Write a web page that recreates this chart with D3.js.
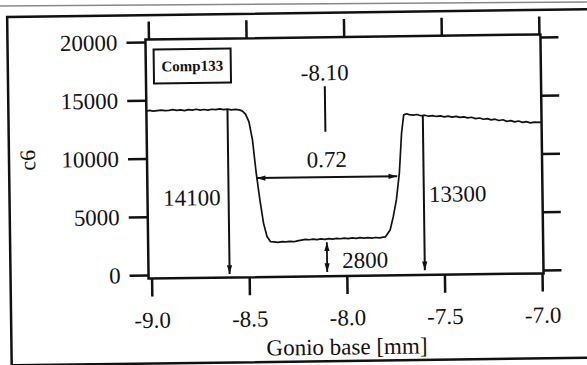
<!DOCTYPE html>
<html>
<head>
  <meta charset="UTF-8">
  <title>Comp133 gonio scan</title>
  <style>
    body { margin: 0; background: #fff; }
    svg { display: block; font-family: "Liberation Serif", "Times New Roman", serif; }
  </style>
</head>
<body>
<svg></svg>
<script src="https://d3js.org/d3.v7.min.js"></script>
<script>
    // values
    const gonioX = [-9.015, -9.00, -8.98, -8.96, -8.94, -8.92, -8.90, -8.88, -8.86, -8.84, -8.82, -8.80,
        -8.78, -8.76, -8.74, -8.72, -8.70, -8.68, -8.66, -8.64, -8.62, -8.60, -8.58, -8.56, -8.54,
        -8.525, -8.508, -8.491, -8.474, -8.457, -8.440, -8.423, -8.406, -8.389,
        -8.37, -8.35, -8.33, -8.31, -8.29, -8.27, -8.25, -8.23, -8.21, -8.19, -8.17, -8.15, -8.13,
        -8.11, -8.09, -8.07, -8.05, -8.03, -8.01, -7.99, -7.97, -7.95, -7.93, -7.91, -7.89, -7.87,
        -7.85, -7.83, -7.81, -7.800, -7.775, -7.758, -7.741, -7.724, -7.710, -7.698, -7.683,
        -7.67, -7.65, -7.63, -7.61, -7.59, -7.57, -7.55, -7.53, -7.51, -7.49, -7.47, -7.45, -7.43,
        -7.41, -7.39, -7.37, -7.35, -7.33, -7.31, -7.29, -7.27, -7.25, -7.23, -7.21, -7.19, -7.17,
        -7.15, -7.13, -7.11, -7.09, -7.07, -7.05, -7.03, -6.995];
    const c6 = [14060, 14130, 14070, 14110, 14150, 14090, 14120, 14170, 14100, 14140, 14080, 14150,
        14110, 14180, 14100, 14150, 14090, 14160, 14120, 14190, 14110, 14150, 14090, 14130, 14080,
        13990, 13700, 13050, 11480, 8620, 6330, 4330, 3180, 2740,
        2700, 2660, 2720, 2690, 2730, 2700, 2770, 2830, 2880, 2850, 2900, 2860, 2910,
        2870, 2930, 2880, 2940, 2900, 2950, 2910, 2960, 2920, 2970, 2930, 2960, 2920,
        2970, 2940, 2990, 3000, 3600, 4740, 6170, 8480, 11910, 13460, 13560,
        13480, 13430, 13480, 13370, 13410, 13320, 13370, 13290, 13340, 13250, 13300, 13210, 13270,
        13180, 13220, 13130, 13180, 13060, 13110, 13000, 13050, 12940, 12990, 12870, 12930, 12790,
        12850, 12740, 12810, 12690, 12750, 12630, 12690, 12660];

    const xTicks = [-9.0, -8.5, -8.0, -7.5, -7.0];
    const yTicks = [0, 5000, 10000, 15000, 20000];
    const xTitle = "Gonio base [mm]";
    const yTitle = "c6";
    const legendLabel = "Comp133";

    // annotations
    const levelX = [-8.60, -7.60];
    const levelTop = [14100, 13350];
    const levelBottom = [0, 100];
    const levelLabels = ["14100", "13300"];
    const widthEnds = [-8.455, -7.735];
    const widthLevel = 8200;
    const widthLabel = "0.72";
    const centerX = -8.10;
    const centerSpan = [12100, 16000];
    const centerLabel = "-8.10";
    const minSpan = [2620, 60];
    const minLabel = "2800";

    const width = 587, height = 365;
    const plotL = 147, plotR = 542, plotT = 37, plotB = 276;
    const serif = '"Liberation Serif", "Times New Roman", serif';

    const svg = d3.select("svg")
        .attr("width", width)
        .attr("height", height);

    // page edge of the scan
    svg.append("line")
        .attr("x1", 0).attr("y1", 6).attr("x2", width).attr("y2", 2)
        .attr("stroke", "#888").attr("stroke-width", 1.5);

    const defs = svg.append("defs");
    defs.append("marker")
        .attr("id", "head")
        .attr("markerUnits", "userSpaceOnUse")
        .attr("viewBox", "0 -4 10 8")
        .attr("refX", 10).attr("refY", 0)
        .attr("markerWidth", 9).attr("markerHeight", 7)
        .attr("orient", "auto-start-reverse")
        .append("path")
        .attr("d", "M0,-3L10,0L0,3Z")
        .attr("fill", "#111");

    // the whole scan is tilted a little
    const g = svg.append("g").attr("transform", "rotate(-0.75, 344, 157)");

    // outer frame (right side cut off)
    g.append("rect")
        .attr("x", 9).attr("y", 12.5)
        .attr("width", 600).attr("height", 348.5)
        .attr("fill", "none").attr("stroke", "#111").attr("stroke-width", 2.5);

    const x = d3.scaleLinear().domain([-9, -7]).range([150, 540.5]);
    const y = d3.scaleLinear().domain([0, 20000]).range([272.5, 39.5]);

    const axisStyle = sel => {
        sel.attr("font-family", null).attr("font-size", null);
        sel.select(".domain").remove();
        sel.selectAll(".tick line").attr("stroke", "#111").attr("stroke-width", 2.5);
        sel.selectAll(".tick text")
            .attr("fill", "#111")
            .style("font-family", serif)
            .style("font-size", "23px");
    };

    g.append("g")
        .attr("transform", `translate(${plotL},0)`)
        .call(d3.axisLeft(y).tickValues(yTicks).tickSize(19).tickPadding(9).tickFormat(d3.format("d")))
        .call(axisStyle);

    g.append("g")
        .attr("transform", `translate(${plotR},0)`)
        .call(d3.axisRight(y).tickValues(yTicks).tickSize(18).tickFormat(""))
        .call(axisStyle);

    g.append("g")
        .attr("transform", `translate(0,${plotB})`)
        .call(d3.axisBottom(x).tickValues(xTicks).tickSize(18).tickPadding(15).tickFormat(d => d.toFixed(1)))
        .call(axisStyle);

    g.append("g")
        .attr("transform", `translate(0,${plotT})`)
        .call(d3.axisTop(x).tickValues(xTicks).tickSize(18).tickFormat(""))
        .call(axisStyle);

    // plot frame
    g.append("rect")
        .attr("x", plotL).attr("y", plotT)
        .attr("width", plotR - plotL).attr("height", plotB - plotT)
        .attr("fill", "none").attr("stroke", "#111").attr("stroke-width", 2.5);

    // scan curve
    const points = gonioX.map((v, i) => [v, c6[i]]);
    g.append("path")
        .datum(points)
        .attr("fill", "none")
        .attr("stroke", "#111")
        .attr("stroke-width", 1.7)
        .attr("stroke-linejoin", "round")
        .attr("d", d3.line().x(d => x(d[0])).y(d => y(d[1])));

    // level arrows
    levelX.forEach((v, i) => {
        g.append("line")
            .attr("x1", x(v)).attr("y1", y(levelTop[i]))
            .attr("x2", x(v)).attr("y2", y(levelBottom[i]))
            .attr("stroke", "#111").attr("stroke-width", 2)
            .attr("marker-end", "url(#head)");
        g.append("text")
            .attr("x", i == 0 ? x(v) - 8 : x(v) + 5)
            .attr("y", i == 0 ? 203.5 : 203)
            .attr("text-anchor", i == 0 ? "end" : "start")
            .style("font-size", "23px").attr("fill", "#111")
            .text(levelLabels[i]);
    });

    // width arrow
    g.append("line")
        .attr("x1", x(widthEnds[0])).attr("y1", y(widthLevel))
        .attr("x2", x(widthEnds[1])).attr("y2", y(widthLevel))
        .attr("stroke", "#111").attr("stroke-width", 2)
        .attr("marker-start", "url(#head)")
        .attr("marker-end", "url(#head)");
    g.append("text")
        .attr("x", (x(widthEnds[0]) + x(widthEnds[1])) / 2)
        .attr("y", y(widthLevel) - 10)
        .attr("text-anchor", "middle")
        .style("font-size", "23px").attr("fill", "#111")
        .text(widthLabel);

    // centre marker
    g.append("line")
        .attr("x1", x(centerX)).attr("y1", y(centerSpan[0]))
        .attr("x2", x(centerX)).attr("y2", y(centerSpan[1]))
        .attr("stroke", "#111").attr("stroke-width", 2);
    g.append("text")
        .attr("x", x(centerX))
        .attr("y", y(centerSpan[1]) - 6)
        .attr("text-anchor", "middle")
        .style("font-size", "23px").attr("fill", "#111")
        .text(centerLabel);

    // minimum arrow
    g.append("line")
        .attr("x1", x(centerX)).attr("y1", y(minSpan[0]))
        .attr("x2", x(centerX)).attr("y2", y(minSpan[1]))
        .attr("stroke", "#111").attr("stroke-width", 1.8)
        .attr("marker-start", "url(#head)")
        .attr("marker-end", "url(#head)");
    g.append("text")
        .attr("x", x(centerX) + 15)
        .attr("y", 268)
        .style("font-size", "23px").attr("fill", "#111")
        .text(minLabel);

    // legend box
    g.append("rect")
        .attr("x", 155).attr("y", 47)
        .attr("width", 77).attr("height", 34)
        .attr("fill", "none").attr("stroke", "#111").attr("stroke-width", 2);
    g.append("text")
        .attr("x", 193.5).attr("y", 69)
        .attr("text-anchor", "middle")
        .style("font-size", "15px").style("font-weight", "bold").attr("fill", "#111")
        .text(legendLabel);

    // axis titles
    g.append("text")
        .attr("x", (plotL + plotR) / 2).attr("y", 354.5)
        .attr("text-anchor", "middle")
        .style("font-size", "23px").attr("fill", "#111")
        .text(xTitle);
    g.append("text")
        .attr("transform", "translate(35,156) rotate(-90)")
        .attr("text-anchor", "middle")
        .style("font-size", "22px").attr("fill", "#111")
        .text(yTitle);
</script>
</body>
</html>
